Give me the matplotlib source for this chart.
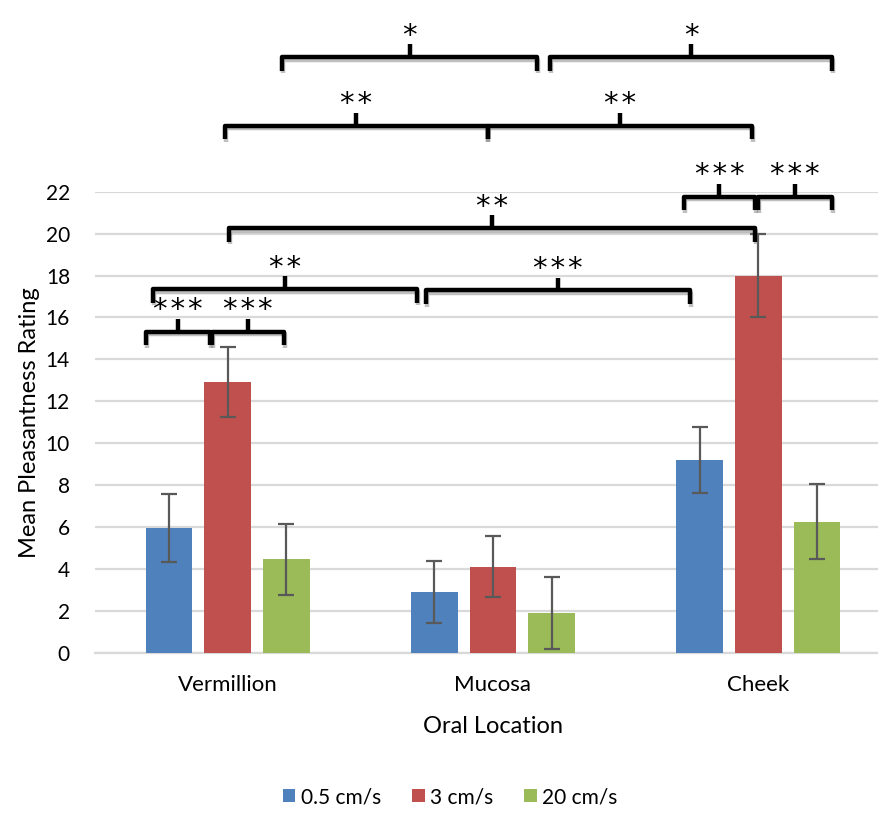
import numpy as np
import matplotlib.pyplot as plt
import matplotlib.patheffects as pe

# mean pleasantness ratings per oral location and stroking speed
locations = ["Vermillion", "Mucosa", "Cheek"]
speeds = ["0.5 cm/s", "3 cm/s", "20 cm/s"]
means = {
    "0.5 cm/s": [5.95, 2.9, 9.2],
    "3 cm/s": [12.9, 4.1, 18.0],
    "20 cm/s": [4.45, 1.9, 6.25],
}
errors = {
    "0.5 cm/s": [1.63, 1.47, 1.56],
    "3 cm/s": [1.67, 1.45, 2.0],
    "20 cm/s": [1.68, 1.7, 1.8],
}
colors = ["#4F81BD", "#C0504D", "#9BBB59"]

# significance brackets: x start, x end, height, label
brackets = [
    (-0.308, -0.067, 15.32, "***"),
    (-0.059, 0.213, 15.32, "***"),
    (-0.282, 0.713, 17.36, "**"),
    (0.747, 1.742, 17.30, "***"),
    (0.005, 1.987, 20.27, "**"),
    (1.720, 1.987, 21.77, "***"),
    (2.000, 2.278, 21.77, "***"),
    (-0.010, 0.980, 25.15, "**"),
    (0.980, 1.977, 25.15, "**"),
    (0.205, 1.166, 28.43, "*"),
    (1.215, 2.278, 28.43, "*"),
]

plt.rcParams['font.family'] = ['Lato', 'DejaVu Sans']

fig = plt.figure(figsize=(8.79, 8.16), dpi=100)
ax = fig.add_axes([95 / 879, 1 - 652.7 / 816, 796 / 879, 461 / 816])

x = np.arange(len(locations))
width = 0.175
offset = 0.221
for i, sp in enumerate(speeds):
    ax.bar(x + (i - 1) * offset, means[sp], width, color=colors[i], label=sp,
           zorder=3)
    ax.errorbar(x + (i - 1) * offset, means[sp], yerr=errors[sp], fmt='none',
                ecolor="#595959", elinewidth=1.6, capsize=5.8, capthick=1.6,
                zorder=4)

ax.set_xlim(-0.5, 2.5)
ax.set_ylim(0, 22)
ax.set_yticks(np.arange(0, 23, 2))
ax.set_xticks(x)
ax.set_xticklabels(locations, fontsize=16)
ax.tick_params(axis='y', labelsize=15, length=0, pad=18)
ax.tick_params(axis='x', length=0, pad=16)
ax.grid(axis='y', color="#D9D9D9", linewidth=1.6, zorder=0)
ax.set_axisbelow(True)
for side in ["left", "right", "top"]:
    ax.spines[side].set_visible(False)
ax.spines["bottom"].set_color("#D9D9D9")
ax.spines["bottom"].set_linewidth(1.6)
ax.set_xlabel("Oral Location", fontsize=17, labelpad=15)
ax.set_ylabel("Mean Pleasantness Rating", fontsize=17, labelpad=4)

shadow = [pe.SimpleLineShadow(offset=(0.5, -2), shadow_color="gray", alpha=0.5),
          pe.Normal()]
for x1, x2, yh, lab in brackets:
    drop = 0.65
    ax.plot([x1, x1, x2, x2], [yh - drop, yh, yh, yh - drop], color="black",
            lw=3.2, solid_joinstyle='round', solid_capstyle='butt',
            clip_on=False, zorder=5, path_effects=shadow)
    xm = (x1 + x2) / 2
    ax.plot([xm, xm], [yh, yh + 0.6], color="black", lw=3.2,
            solid_capstyle='butt', clip_on=False, zorder=5)
    ax.text(xm, yh + 0.35, "\u200a".join(lab), ha='center', va='bottom',
            fontsize=21, family='DejaVu Sans', clip_on=False)

fig.legend(loc='lower center', bbox_to_anchor=(0.512, -0.012), ncol=3,
           frameon=False, fontsize=15, handlelength=0.6, handleheight=0.6,
           handletextpad=0.25, columnspacing=1.5)

fig.savefig("out.png", dpi=100)
